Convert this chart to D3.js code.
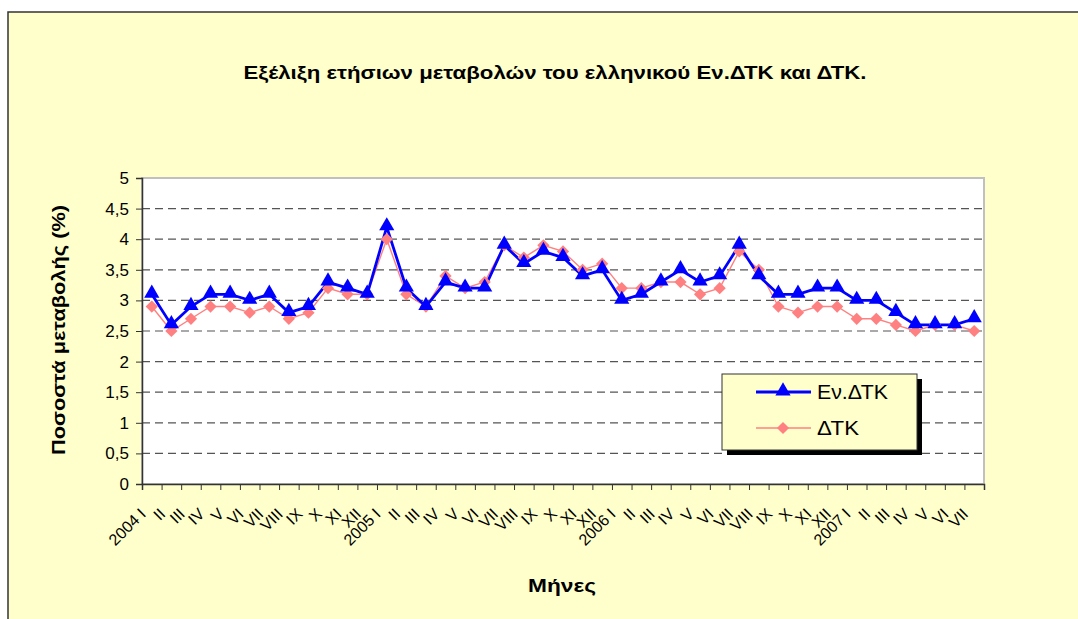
<!DOCTYPE html>
<html>
<head>
<meta charset="utf-8">
<script src="https://cdn.jsdelivr.net/npm/d3@7"></script>
<style>
  body { margin: 0; background: #ffffff; }
  svg { display: block; font-family: "Liberation Sans", Arial, sans-serif; }
</style>
</head>
<body>
<div id="chart"></div>
<script>
// categories (months, roman numerals, year on January)
var categories = ["2004 I","II","III","IV","V","VI","VII","VIII","IX","X","XI","XII",
                  "2005 I","II","III","IV","V","VI","VII","VIII","IX","X","XI","XII",
                  "2006 I","II","III","IV","V","VI","VII","VIII","IX","X","XI","XII",
                  "2007 I","II","III","IV","V","VI","VII"];
// Εν.ΔΤΚ
var evdtk = [3.1,2.6,2.9,3.1,3.1,3.0,3.1,2.8,2.9,3.3,3.2,3.1,
             4.2,3.2,2.9,3.3,3.2,3.2,3.9,3.6,3.8,3.7,3.4,3.5,
             3.0,3.1,3.3,3.5,3.3,3.4,3.9,3.4,3.1,3.1,3.2,3.2,
             3.0,3.0,2.8,2.6,2.6,2.6,2.7];
// ΔΤΚ
var dtk = [2.9,2.5,2.7,2.9,2.9,2.8,2.9,2.7,2.8,3.2,3.1,3.1,
           4.0,3.1,2.9,3.4,3.2,3.3,3.9,3.7,3.9,3.8,3.5,3.6,
           3.2,3.2,3.3,3.3,3.1,3.2,3.8,3.5,2.9,2.8,2.9,2.9,
           2.7,2.7,2.6,2.5,2.6,2.6,2.5];
var yTicks = [0,0.5,1,1.5,2,2.5,3,3.5,4,4.5,5];
var seriesNames = ["Εν.ΔΤΚ","ΔΤΚ"];

var W = 1078, H = 619;
var plot = {left: 142, top: 178, right: 984, bottom: 484};

var svg = d3.select("#chart").append("svg").attr("width", W).attr("height", H);

// chart area background + border
svg.append("rect").attr("x", 8).attr("y", 12).attr("width", W + 10).attr("height", H + 10)
  .attr("fill", "#FFFFCC").attr("stroke", "#333333").attr("stroke-width", 1.5);

var x = d3.scaleLinear().domain([0, categories.length]).range([plot.left, plot.right]);
var y = d3.scaleLinear().domain([0, 5]).range([plot.bottom, plot.top]);

// plot area
svg.append("rect").attr("x", plot.left).attr("y", plot.top)
  .attr("width", plot.right - plot.left).attr("height", plot.bottom - plot.top)
  .attr("fill", "#ffffff").attr("stroke", "#c0c0c0").attr("stroke-width", 2);

// gridlines
svg.append("g").selectAll("line").data(yTicks.filter(function(d){ return d > 0 && d < 5; }))
  .enter().append("line")
  .attr("x1", plot.left).attr("x2", plot.right)
  .attr("y1", function(d){ return y(d); }).attr("y2", function(d){ return y(d); })
  .attr("stroke", "#555555").attr("stroke-width", 1.2).attr("stroke-dasharray", "8,5");

// y axis
var yAxis = svg.append("g").attr("transform", "translate(" + plot.left + ",0)")
  .call(d3.axisLeft(y).tickValues(yTicks).tickSize(6).tickPadding(7)
    .tickFormat(function(d){ return String(d).replace(".", ","); }));
yAxis.select(".domain").attr("stroke", "#333333").attr("stroke-width", 1.5);
yAxis.selectAll(".tick line").attr("stroke", "#333333");
yAxis.selectAll("text").attr("font-size", 17).attr("fill", "#000").attr("font-family", null);

// x axis
var xAxis = svg.append("g").attr("transform", "translate(0," + plot.bottom + ")")
  .call(d3.axisBottom(x).tickValues(d3.range(categories.length + 1)).tickSize(6).tickFormat(""));
xAxis.select(".domain").attr("stroke", "#333333").attr("stroke-width", 1.5);
xAxis.selectAll(".tick line").attr("stroke", "#333333");

svg.append("g").selectAll("text").data(categories).enter().append("text")
  .attr("transform", function(d, i){ return "translate(" + (x(i + 0.5) - 5) + ",515) rotate(-45)"; })
  .attr("text-anchor", "end")
  .attr("font-size", 16)
  .text(function(d){ return d; });

// lines
var lineGen = d3.line().x(function(d, i){ return x(i + 0.5); }).y(function(d){ return y(d); });

svg.append("path").datum(dtk).attr("d", lineGen)
  .attr("fill", "none").attr("stroke", "#FF8080").attr("stroke-width", 1.4);
svg.append("path").datum(evdtk).attr("d", lineGen)
  .attr("fill", "none").attr("stroke", "#0000FF").attr("stroke-width", 2.8);

var triangle = d3.symbol().type(d3.symbolTriangle).size(100);
var diamond = d3.symbol().type(d3.symbolSquare).size(75);

svg.append("g").selectAll("path").data(dtk).enter().append("path")
  .attr("d", diamond)
  .attr("transform", function(d, i){ return "translate(" + x(i + 0.5) + "," + y(d) + ") rotate(45)"; })
  .attr("fill", "#FF8080");
svg.append("g").selectAll("path").data(evdtk).enter().append("path")
  .attr("d", triangle)
  .attr("transform", function(d, i){ return "translate(" + x(i + 0.5) + "," + (y(d) - 1) + ")"; })
  .attr("fill", "#0000FF");

// titles
svg.append("text").attr("x", 555).attr("y", 79).attr("text-anchor", "middle")
  .attr("font-size", 18).attr("font-weight", "bold")
  .attr("textLength", 623).attr("lengthAdjust", "spacingAndGlyphs")
  .text("Εξέλιξη ετήσιων μεταβολών του ελληνικού Εν.ΔΤΚ και ΔΤΚ.");
svg.append("text").attr("x", 562).attr("y", 592).attr("text-anchor", "middle")
  .attr("font-size", 19).attr("font-weight", "bold")
  .attr("textLength", 68).attr("lengthAdjust", "spacingAndGlyphs").text("Μήνες");
svg.append("text").attr("transform", "translate(65,330) rotate(-90)").attr("text-anchor", "middle")
  .attr("font-size", 19).attr("font-weight", "bold")
  .attr("textLength", 250).attr("lengthAdjust", "spacingAndGlyphs").text("Ποσοστά μεταβολής (%)");

// legend
var lg = svg.append("g").attr("transform", "translate(722,374)");
lg.append("rect").attr("x", 5).attr("y", 5).attr("width", 195).attr("height", 76).attr("fill", "#000");
lg.append("rect").attr("x", 0).attr("y", 0).attr("width", 195).attr("height", 76)
  .attr("fill", "#FFFFCC").attr("stroke", "#333333").attr("stroke-width", 1);

var legendData = [
  {name: seriesNames[0], color: "#0000FF", width: 2.8, sym: triangle, rot: 0, len: 71},
  {name: seriesNames[1], color: "#FF8080", width: 1.4, sym: diamond, rot: 45, len: 42}
];
var items = lg.selectAll(".item").data(legendData).enter().append("g")
  .attr("transform", function(d, i){ return "translate(0," + (18 + i * 36) + ")"; });
items.append("line").attr("x1", 34).attr("x2", 89).attr("y1", 0).attr("y2", 0)
  .attr("stroke", function(d){ return d.color; }).attr("stroke-width", function(d){ return d.width; });
items.append("path").attr("d", function(d){ return d.sym(); })
  .attr("transform", function(d){ return "translate(61," + (d.rot ? 0 : -1) + ") rotate(" + d.rot + ")"; })
  .attr("fill", function(d){ return d.color; });
items.append("text").attr("x", 95).attr("y", 7).attr("font-size", 20)
  .attr("textLength", function(d){ return d.len; }).attr("lengthAdjust", "spacingAndGlyphs")
  .text(function(d){ return d.name; });
</script>
</body>
</html>
